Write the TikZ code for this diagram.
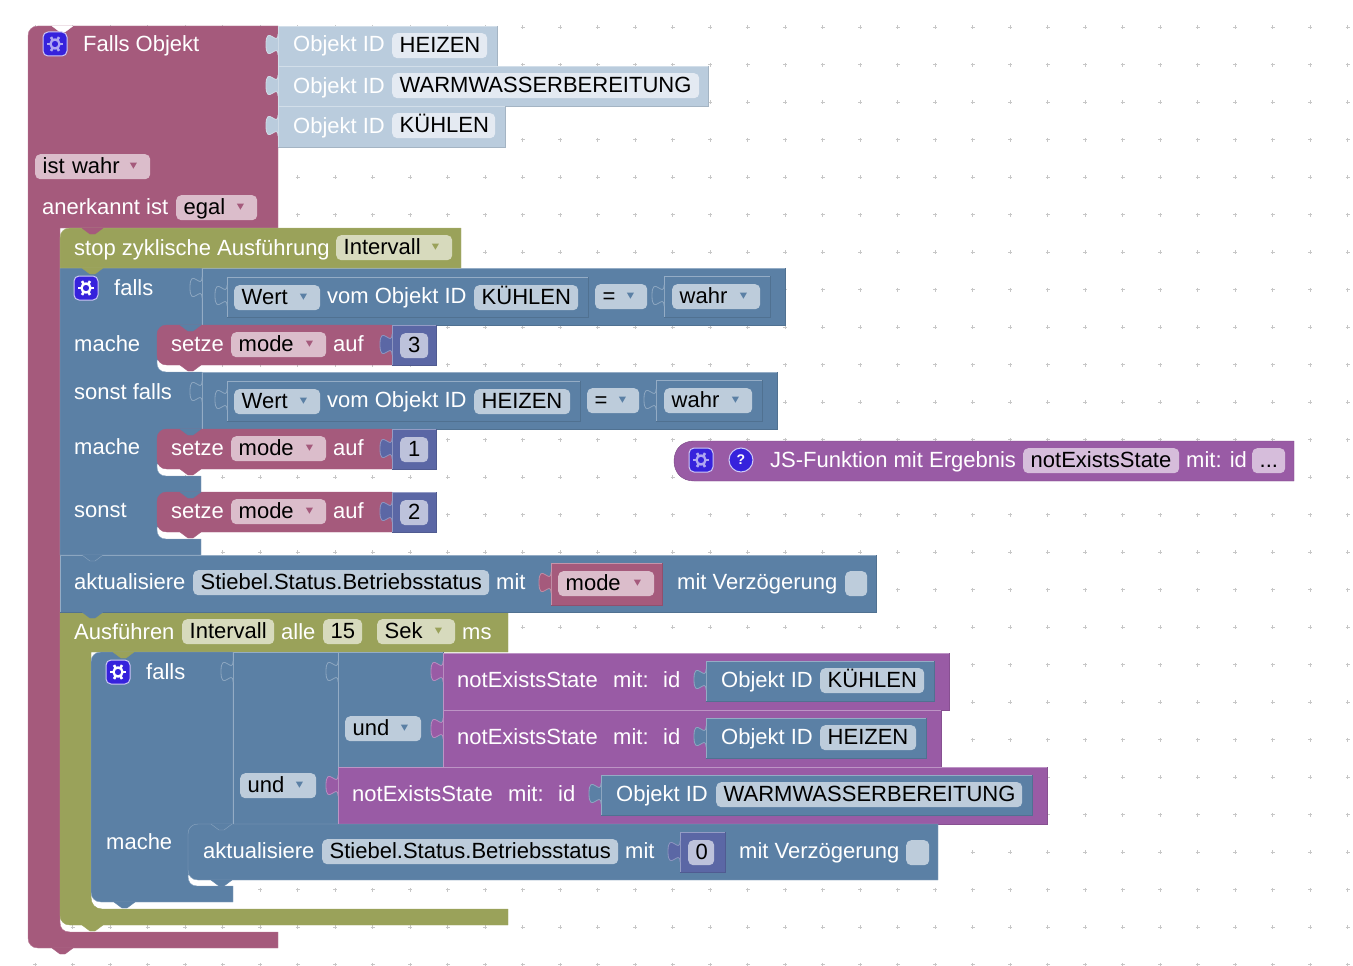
\documentclass[tikz,border=0pt]{standalone}
\usepackage{fontspec}
\setmainfont{Liberation Sans}
\definecolor{magB}{HTML}{A55A7C}
\definecolor{magF}{HTML}{DBBDCB}
\definecolor{bluB}{HTML}{5B80A5}
\definecolor{bluF}{HTML}{BDCCDB}
\definecolor{oliB}{HTML}{9AA25A}
\definecolor{oliF}{HTML}{D7DABD}
\definecolor{purB}{HTML}{995BA5}
\definecolor{purF}{HTML}{D6BDDB}
\definecolor{indB}{HTML}{5B67A5}
\definecolor{indF}{HTML}{BDC2DB}
\definecolor{idlB}{HTML}{BACCDD}
\definecolor{idlF}{HTML}{E4EAF2}
\definecolor{gearB}{HTML}{3622DC}
\tikzset{
	lbl/.style={anchor=base west, inner sep=0pt, text=white, font=\fontsize{22}{26}\selectfont},
	fld/.style={anchor=north west, fill=#1, rounded corners=5pt, inner xsep=7.5pt, inner ysep=2pt, text height=17pt, text depth=4pt, align=left, text=black, font=\fontsize{22}{26}\selectfont},
	gearbox/.style={fill=gearB, draw=white!75!gearB, line width=1pt, rounded corners=5pt, minimum size=24pt, inner sep=0pt},
}
\newcommand{\blockrect}[5]{
	\fill[#5] (#1,#2) rectangle (#3,#4);
	\draw[#5!65!white] (#1,#4) -- (#1,#2) -- (#3,#2);
	\draw[#5!88!black] (#3,#2) -- (#3,#4) -- (#1,#4);
}
\newcommand{\jigsaw}[3]{
	\filldraw[fill=#3, draw=#3!70!white, line width=.8pt] (#1,#2) .. controls (#1,#2+14) and (#1-12,#2-11) .. (#1-12,#2+10.5) .. controls (#1-12,#2+32) and (#1,#2+7) .. (#1,#2+21);
}
\newcommand{\nexttab}[4]{
	\filldraw[fill=#3, draw=#4, line join=round] (#1,#2) -- ++(8,6) -- ++(5,0) -- ++(8,-6);
}
\newcommand{\dropmark}[2]{
	\fill[#2, line join=round] ([shift={(-20.5,-4)}]#1.east) -- ++(7,0) -- ++(-3.5,6) -- cycle;
}
\newcommand{\gearicon}[4]{
	\node[gearbox] (#1) at (#2,#3) {};
	\foreach \a in {0,60,...,300} \draw[#4, line width=2.6pt] (#1.center) ++(\a:4.4) -- ++(\a:3.6);
	\draw[#4, line width=2.3pt] (#1.center) circle (4.5);
}
\begin{document}
\begin{tikzpicture}[x=1pt, y=-1pt]
	\useasboundingbox (0,0) rectangle (1353,966);
	\foreach \i in {0,...,36} \foreach \j in {0,...,26}
		\draw[black!22, line width=1pt] (-2.3+37.5*\i-2,-10.2+37.5*\j) -- ++(4,0) (-2.3+37.5*\i,-10.2+37.5*\j-2) -- ++(0,4);

	\filldraw[fill=magB, draw=magB!80!white] (28,36) .. controls (28,30) and (32,26) .. (38,26) -- (278,26) -- (278,228) -- (60,228) -- (60,922) .. controls (60,928) and (63,932) .. (70,932) -- (278,932) -- (278,948) -- (38,948) .. controls (32,948) and (28,944) .. (28,938) -- cycle;
	\nexttab{52}{26}{white}{white}
	\nexttab{52}{948}{magB}{magB}
	\gearicon{gearTop}{55}{44}{white!60!gearB}
	\node[lbl] (fallsObj) at (83,52) {Falls Objekt};
	\node[fld=magF, text width=100pt] (istWahr) at (35,154) {ist wahr};
	\dropmark{istWahr}{magB}
	\node[lbl] (anerkannt) at (42,214) {anerkannt ist};
	\node[fld=magF, text width=66pt] (egal) at (176,195) {egal};
	\dropmark{egal}{magB}

	\blockrect{278}{26}{497}{66}{idlB}
	\blockrect{278}{66}{708}{106}{idlB}
	\blockrect{278}{106}{505}{147}{idlB}
	\jigsaw{278}{34}{idlB}
	\jigsaw{278}{75}{idlB}
	\jigsaw{278}{115}{idlB}
	\node[lbl] (objA) at (293,52) {Objekt ID};
	\node[fld=idlF, text width=80pt] (heizenA) at (392,33) {HEIZEN};
	\node[lbl] (objB) at (293,93) {Objekt ID};
	\node[fld=idlF, text width=292pt] (warmA) at (392,73) {WARMWASSERBEREITUNG};
	\node[lbl] (objC) at (293,133) {Objekt ID};
	\node[fld=idlF, text width=88pt] (kuehlA) at (392,113) {KÜHLEN};

	\filldraw[fill=oliB, draw=oliB] (60,612) -- (508,612) -- (508,652) -- (91,652) -- (91,897) .. controls (91,904) and (95,909) .. (102,909) -- (508,909) -- (508,925) -- (70,925) .. controls (64,925) and (60,921) .. (60,915) -- cycle;
	\nexttab{82}{925}{oliB}{oliB}
	\node[lbl] (ausf) at (74,639) {Ausführen};
	\node[fld=oliF, text width=77pt] (intervallB) at (182,619) {Intervall};
	\node[lbl] (alle) at (281,639) {alle};
	\node[fld=oliF, text width=24pt, align=center] (fuenfzehn) at (323,619) {15};
	\node[fld=oliF, text width=63pt] (sek) at (377,619) {Sek};
	\dropmark{sek}{oliB}
	\node[lbl] (ms) at (462,639) {ms};

	\blockrect{60}{555}{876}{612}{bluB}
	\nexttab{82}{612}{bluB}{bluB}
	\node[lbl] (aktA) at (74,589) {aktualisiere};
	\node[fld=bluF, text width=281pt] (statusA) at (193,570) {Stiebel.Status.Betriebsstatus};
	\node[lbl] (mitA) at (496,589) {mit};
	\blockrect{551}{563}{662}{605}{magB}
	\jigsaw{551}{572}{magB}
	\node[fld=magF, text width=81pt] (modeA) at (558,571) {mode};
	\dropmark{modeA}{magB}
	\node[lbl] (verzA) at (677,589) {mit Verzögerung};
	\node[fld=bluF, text width=7pt] (delayA) at (845,571) {};

	\filldraw[fill=bluB, draw=bluB!70!white] (60,268) -- (202,268) -- (202,360) -- (157,360) -- (157,363) .. controls (157,368) and (160,372) .. (166,372) -- (202,372) -- (202,464) -- (157,464) -- (157,467) .. controls (157,472) and (160,476) .. (166,476) -- (201,476) -- (201,527) -- (157,527) -- (157,530) .. controls (157,535) and (160,539) .. (166,539) -- (201,539) -- (201,555) -- (60,555) -- cycle;
	\nexttab{82}{555}{bluB}{bluB!70!white}
	\gearicon{gearIf}{86}{288}{white}
	\node[lbl] (fallsA) at (114,295) {falls};
	\node[lbl] (macheA) at (74,351.5) {mache};
	\node[lbl] (sonstF) at (74,399) {sonst falls};
	\node[lbl] (macheB) at (74,454) {mache};
	\node[lbl] (sonst) at (74,517) {sonst};

	\blockrect{202}{268}{785}{325}{bluB}
	\jigsaw{202}{277}{bluB}
	\blockrect{227}{277}{588}{317}{bluB}
	\jigsaw{227}{285}{bluB}
	\node[fld=bluF, text width=71pt] (wertA) at (234,285) {Wert};
	\dropmark{wertA}{bluB}
	\node[lbl] (vomA) at (327,303) {vom Objekt ID};
	\node[fld=bluF, text width=89pt] (kuehlB) at (474,285) {KÜHLEN};
	\node[fld=bluF, text width=37pt] (eqA) at (595,284) {=};
	\dropmark{eqA}{bluB}
	\blockrect{664}{276}{770}{317}{bluB}
	\jigsaw{664}{285}{bluB}
	\node[fld=bluF, text width=73pt] (wahrA) at (672,284) {wahr};
	\dropmark{wahrA}{bluB}

	\blockrect{202}{372}{777}{429}{bluB}
	\jigsaw{202}{381}{bluB}
	\blockrect{227}{381}{580}{421}{bluB}
	\jigsaw{227}{389}{bluB}
	\node[fld=bluF, text width=71pt] (wertB) at (234,389) {Wert};
	\dropmark{wertB}{bluB}
	\node[lbl] (vomB) at (327,407) {vom Objekt ID};
	\node[fld=bluF, text width=81pt] (heizenB) at (474,389) {HEIZEN};
	\node[fld=bluF, text width=37pt] (eqB) at (587,388) {=};
	\dropmark{eqB}{bluB}
	\blockrect{656}{380}{762}{421}{bluB}
	\jigsaw{656}{389}{bluB}
	\node[fld=bluF, text width=73pt] (wahrB) at (664,388) {wahr};
	\dropmark{wahrB}{bluB}

	\foreach \y/\v/\n in {325/3/a,429/1/b,492/2/c}{
		\filldraw[fill=magB, draw=magB] (167,\y) -- (392,\y) -- (392,\y+40) -- (167,\y+40) .. controls (161,\y+40) and (157,\y+36) .. (157,\y+30) -- (157,\y+10) .. controls (157,\y+4) and (161,\y) .. (167,\y);
		\nexttab{180}{\y}{bluB}{bluB}
		\nexttab{180}{\y+40}{magB}{magB}
		\node[lbl] (setze\n) at (171,\y+26.5) {setze};
		\node[fld=magF, text width=80pt] (mode\n) at (231,\y+7) {mode};
		\dropmark{mode\n}{magB}
		\node[lbl] (auf\n) at (333,\y+26.5) {auf};
		\blockrect{392}{\y}{436}{\y+40}{indB}
		\jigsaw{392}{\y+9}{indB}
		\node[fld=indF, text width=13pt, align=center] (wert\n) at (400,\y+8) {\v};
	}

	\filldraw[fill=oliB, draw=oliB!80!white] (60,238) .. controls (60,232) and (64,228) .. (70,228) -- (461,228) -- (461,268) -- (60,268) -- cycle;
	\nexttab{82}{228}{magB}{magB}
	\nexttab{82}{268}{oliB}{oliB}
	\node[lbl] (stopLbl) at (74,255.5) {stop zyklische Ausführung};
	\node[fld=oliF, text width=101pt] (intervallA) at (336,235) {Intervall};
	\dropmark{intervallA}{oliB}

	\filldraw[fill=bluB, draw=bluB!70!white] (91,662) .. controls (91,656) and (95,652) .. (101,652) -- (233,652) -- (233,875) -- (188,875) -- (188,876) .. controls (188,882) and (191,886) .. (197,886) -- (233,886) -- (233,902) -- (101,902) .. controls (95,902) and (91,898) .. (91,892) -- cycle;
	\nexttab{113}{652}{oliB}{oliB}
	\nexttab{114}{902}{bluB}{bluB}
	\gearicon{gearFalls}{118}{672}{white}
	\node[lbl] (fallsB) at (146,679) {falls};
	\node[lbl] (macheC) at (106,849) {mache};

	\blockrect{233}{652}{338}{824}{bluB}
	\jigsaw{233}{661}{bluB}
	\node[fld=bluF, text width=61pt] (undA) at (240,773) {und};
	\dropmark{undA}{bluB}
	\blockrect{338}{652}{443}{767}{bluB}
	\jigsaw{338}{661}{bluB}
	\node[fld=bluF, text width=61pt] (undB) at (345,716) {und};
	\dropmark{undB}{bluB}

	\blockrect{443}{653}{949}{710}{purB}
	\jigsaw{443}{661}{purB}
	\node[lbl] (notA) at (457,687) {notExistsState};
	\node[lbl] (mitB) at (613,687) {mit:};
	\node[lbl] (idA) at (663,687) {id};
	\blockrect{706}{661}{934}{701}{bluB}
	\jigsaw{706}{669}{bluB}
	\node[lbl] (objD) at (721,687) {Objekt ID};
	\node[fld=bluF, text width=89pt] (kuehlC) at (820,668) {KÜHLEN};

	\blockrect{443}{710}{941}{767}{purB}
	\jigsaw{443}{718}{purB}
	\node[lbl] (notB) at (457,744) {notExistsState};
	\node[lbl] (mitC) at (613,744) {mit:};
	\node[lbl] (idB) at (663,744) {id};
	\blockrect{706}{718}{926}{758}{bluB}
	\jigsaw{706}{726}{bluB}
	\node[lbl] (objE) at (721,744) {Objekt ID};
	\node[fld=bluF, text width=81pt] (heizenC) at (820,725) {HEIZEN};

	\blockrect{338}{767}{1047}{824}{purB}
	\jigsaw{338}{775}{purB}
	\node[lbl] (notC) at (352,801) {notExistsState};
	\node[lbl] (mitD) at (508,801) {mit:};
	\node[lbl] (idC) at (558,801) {id};
	\blockrect{601}{775}{1032}{815}{bluB}
	\jigsaw{601}{783}{bluB}
	\node[lbl] (objF) at (616,801) {Objekt ID};
	\node[fld=bluF, text width=291pt] (warmB) at (716,782) {WARMWASSERBEREITUNG};

	\filldraw[fill=bluB, draw=bluB!70!white] (198,824) -- (938,824) -- (938,880) -- (198,880) .. controls (192,880) and (188,876) .. (188,870) -- (188,834) .. controls (188,828) and (192,824) .. (198,824);
	\nexttab{211}{824}{bluB}{bluB!70!white}
	\nexttab{211}{880}{bluB}{bluB}
	\node[lbl] (aktB) at (203,858) {aktualisiere};
	\node[fld=bluF, text width=281pt] (statusB) at (322,839) {Stiebel.Status.Betriebsstatus};
	\node[lbl] (mitE) at (625,858) {mit};
	\blockrect{680}{832}{725}{872}{indB}
	\jigsaw{680}{841}{indB}
	\node[fld=indF, text width=11pt, align=center] (null) at (688,840) {0};
	\node[lbl] (verzB) at (739,858) {mit Verzögerung};
	\node[fld=bluF, text width=8pt] (delayB) at (906,840) {};

	\filldraw[fill=purB, draw=purB!80!black] (1294,441) -- (1294,481) -- (694,481) .. controls (682,481) and (674,473) .. (674,461) .. controls (674,449) and (682,441) .. (694,441) -- cycle;
	\gearicon{gearJs}{701}{460}{white!60!gearB}
	\node[circle, fill=gearB, draw=white!75!gearB, line width=1pt, minimum size=24pt, inner sep=0pt, text=white, font=\bfseries\fontsize{14}{16}\selectfont] (help) at (741,460) {?};
	\node[lbl] (jsLbl) at (770,467.5) {JS-Funktion mit Ergebnis};
	\node[fld=purF, text width=141pt] (notD) at (1023,448) {notExistsState};
	\node[lbl] (mitF) at (1186,467.5) {mit: id};
	\node[fld=purF, text width=18pt, align=center] (dots) at (1252,448) {...};
\end{tikzpicture}
\end{document}
